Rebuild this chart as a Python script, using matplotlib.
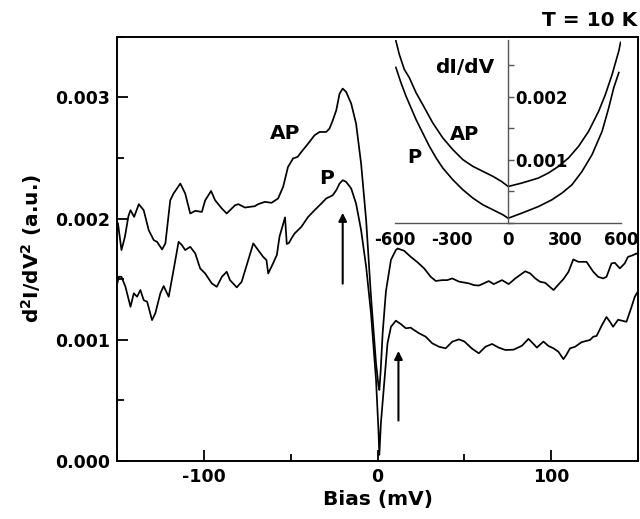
import numpy as np
import matplotlib
matplotlib.use("Agg")
import matplotlib.pyplot as plt
from matplotlib.ticker import MultipleLocator, FormatStrFormatter

plt.rcParams['font.family'] = ['DejaVu Sans']
plt.rcParams['font.weight'] = 'bold'
plt.rcParams['mathtext.fontset'] = 'dejavusans'
plt.rcParams['mathtext.default'] = 'bf'
plt.rcParams['axes.unicode_minus'] = False

# ---- main panel data: d2I/dV2 (units of 1e-3 a.u.) vs bias (mV)
ap_bias = [-149.5, -147.5, -145.5, -143.5, -142.3, -140.2, -137.5, -134.7, -131.8, -128.9,
           -127.0, -124.1, -122.2, -119.4, -117.5, -113.6, -110.8, -107.9, -105.0, -101.2,
           -99.3, -95.9, -93.6, -89.7, -86.9, -82.1, -80.2, -76.4, -73.5, -70.7,
           -68.8, -64.9, -61.1, -57.3, -54.4, -51.6, -48.7, -46.0, -43.9, -40.0,
           -36.3, -33.4, -29.6, -27.7, -25.8, -23.8, -21.9, -20.1, -18.1, -15.2,
           -12.4, -9.5, -6.6, -3.8, -0.9, 0.5, 1.0, 1.8, 2.9, 4.8,
           7.7, 10.5, 11.5, 15.3, 19.1, 22.9, 26.8, 30.6, 33.5, 37.3,
           40.1, 43.0, 46.8, 52.6, 55.4, 58.3, 61.1, 64.0, 66.9, 71.6,
           75.5, 79.3, 85.0, 87.9, 90.8, 93.6, 96.5, 101.3, 104.1, 107.0,
           109.9, 112.7, 115.6, 120.3, 124.2, 127.0, 129.9, 131.8, 134.7, 136.6,
           139.5, 142.3, 144.2, 147.1, 149.0, 150.0]
ap_d2 = [1.96, 1.74, 1.85, 2.02, 2.069, 2.014, 2.119, 2.069, 1.904, 1.822,
         1.808, 1.745, 1.795, 2.152, 2.207, 2.289, 2.207, 2.042, 2.064, 2.055,
         2.15, 2.228, 2.152, 2.083, 2.042, 2.110, 2.119, 2.091, 2.097, 2.102,
         2.119, 2.138, 2.130, 2.166, 2.262, 2.426, 2.496, 2.51, 2.550, 2.619,
         2.688, 2.715, 2.715, 2.743, 2.811, 2.894, 3.031, 3.073, 3.045, 2.949,
         2.784, 2.454, 1.987, 1.355, 0.805, 0.62, 0.585, 0.75, 1.053, 1.40,
         1.66, 1.74, 1.753, 1.734, 1.684, 1.64, 1.589, 1.519, 1.485, 1.492,
         1.492, 1.506, 1.48, 1.465, 1.451, 1.447, 1.465, 1.484, 1.459, 1.492,
         1.459, 1.506, 1.565, 1.547, 1.506, 1.478, 1.470, 1.410, 1.455, 1.50,
         1.56, 1.663, 1.643, 1.643, 1.561, 1.519, 1.506, 1.519, 1.630, 1.635,
         1.589, 1.630, 1.684, 1.698, 1.712, 1.70]

p_bias = [-149.9, -149.0, -147.5, -145.2, -142.3, -140.4, -138.5, -136.6, -134.7, -132.7,
          -129.9, -128.0, -125.1, -123.2, -120.3, -117.5, -114.6, -112.7, -110.8, -107.9,
          -105.0, -102.2, -99.3, -95.5, -92.6, -89.7, -86.9, -85.0, -81.1, -78.3,
          -74.5, -71.6, -68.8, -65.9, -64.0, -63.0, -60.2, -58.0, -56.5, -53.3,
          -52.3, -51.0, -49.6, -47.8, -43.9, -40.0, -36.3, -32.4, -29.6, -27.7,
          -25.8, -23.8, -21.9, -20.1, -18.1, -15.2, -12.4, -9.5, -6.6, -3.8,
          -0.9, 0.5, 1.0, 1.9, 3.8, 5.7, 7.7, 10.5, 13.4, 16.3,
          19.0, 21.0, 23.9, 27.7, 31.5, 35.4, 39.2, 43.0, 46.8, 50.0,
          54.5, 58.3, 62.1, 65.9, 69.7, 73.6, 78.3, 83.1, 86.9, 89.8,
          91.7, 95.5, 98.4, 101.3, 104.1, 107.0, 108.5, 110.8, 113.7, 117.5,
          122.3, 124.2, 126.1, 129.0, 131.8, 133.8, 135.6, 138.5, 141.4, 143.3,
          146.1, 148.1, 150.0]
p_d2 = [1.465, 1.52, 1.519, 1.437, 1.272, 1.383, 1.355, 1.410, 1.327, 1.313,
        1.162, 1.218, 1.383, 1.443, 1.355, 1.575, 1.808, 1.781, 1.740, 1.767,
        1.712, 1.589, 1.547, 1.465, 1.437, 1.519, 1.561, 1.492, 1.432, 1.478,
        1.657, 1.795, 1.740, 1.684, 1.657, 1.547, 1.630, 1.70, 1.85, 2.01,
        1.79, 1.80, 1.836, 1.877, 1.932, 2.014, 2.069, 2.124, 2.166, 2.179,
        2.193, 2.234, 2.289, 2.317, 2.303, 2.248, 2.124, 1.904, 1.602, 1.218,
        0.668, 0.25, 0.05, 0.311, 0.641, 0.970, 1.107, 1.157, 1.129, 1.094,
        1.10, 1.08, 1.053, 1.025, 0.970, 0.942, 0.929, 0.984, 1.003, 0.985,
        0.925, 0.888, 0.942, 0.965, 0.935, 0.915, 0.918, 0.950, 1.007, 0.965,
        0.935, 0.985, 0.948, 0.929, 0.901, 0.840, 0.87, 0.929, 0.942, 0.980,
        0.998, 1.025, 1.031, 1.115, 1.188, 1.148, 1.107, 1.165, 1.155, 1.148,
        1.265, 1.355, 1.40]

# ---- inset data: dI/dV vs bias (mV), units of 1e-3
in_ap_bias = [-594.7, -577.0, -550.5, -523.8, -488.1, -453.0, -399.7, -346.4, -293.1, -239.8,
              -186.5, -133.2, -79.9, -35.2, 0.0, 71.4, 160.0, 213.0, 266.5, 319.7,
              373.0, 426.3, 479.6, 515.3, 551.0, 586.2, 595.3]
in_ap_g = [2.887, 2.675, 2.435, 2.303, 2.064, 1.877, 1.585, 1.346, 1.159, 1.000,
           0.893, 0.813, 0.734, 0.654, 0.574, 0.628, 0.708, 0.788, 0.893, 1.027,
           1.212, 1.451, 1.770, 2.037, 2.356, 2.727, 2.861]
in_p_bias = [-594.7, -568.0, -541.4, -514.8, -488.1, -453.0, -417.3, -381.6, -346.4, -293.1,
             -239.8, -186.5, -133.2, -79.9, -26.6, 0.0, 71.4, 160.0, 231.0, 284.6,
             337.9, 391.2, 444.4, 497.7, 532.9, 559.5, 586.2]
in_p_g = [2.463, 2.223, 2.010, 1.825, 1.638, 1.426, 1.212, 1.027, 0.868, 0.681,
          0.522, 0.389, 0.282, 0.203, 0.123, 0.070, 0.150, 0.255, 0.362, 0.469,
          0.601, 0.813, 1.080, 1.451, 1.825, 2.144, 2.383]

arrow_bias = [-20.1, 12.0]
arrow_tail = [1.44, 0.31]
arrow_tip = [2.07, 0.93]

fig = plt.figure(figsize=(6.4, 5.19), dpi=100)
ax = fig.add_axes([0.183, 0.112, 0.814, 0.817])
ax.plot(ap_bias, np.array(ap_d2) * 1e-3, color='black', lw=1.25)
ax.plot(p_bias, np.array(p_d2) * 1e-3, color='black', lw=1.25)
ax.set_xlim(-150, 150)
ax.set_ylim(0, 0.0035)
ax.xaxis.set_major_locator(MultipleLocator(100))
ax.xaxis.set_minor_locator(MultipleLocator(50))
ax.yaxis.set_major_locator(MultipleLocator(0.001))
ax.yaxis.set_minor_locator(MultipleLocator(0.0005))
ax.yaxis.set_major_formatter(FormatStrFormatter('%.3f'))
ax.tick_params(which='both', direction='in', labelsize=12.5, width=1.3)
ax.tick_params(which='major', length=8, pad=5)
ax.tick_params(which='minor', length=5)
for sp in ax.spines.values():
    sp.set_linewidth(1.4)
ax.set_xlabel('Bias (mV)', fontsize=14.5, fontweight='bold', labelpad=3)
ax.set_ylabel(r'd$^2$I/dV$^2$ (a.u.)', fontsize=14.5, fontweight='bold', labelpad=8)

for xb, yt, yh in zip(arrow_bias, arrow_tail, arrow_tip):
    ax.annotate('', xy=(xb, yh * 1e-3), xytext=(xb, yt * 1e-3),
                arrowprops=dict(arrowstyle='-|>', color='black', lw=1.5, mutation_scale=12))

ax.text(-53.5, 0.00270, 'AP', fontsize=14.5, fontweight='bold', ha='center', va='center')
ax.text(-29.6, 0.00233, 'P', fontsize=14.5, fontweight='bold', ha='center', va='center')

fig.text(0.995, 1 - 20 / 519, 'T = 10 K', fontsize=14.5, fontweight='bold', ha='right', va='center')

# ---- inset
axi = fig.add_axes([0.617, 0.571, 0.354, 0.352])
axi.patch.set_alpha(0)
axi.plot(in_ap_bias, np.array(in_ap_g) * 1e-3, color='black', lw=1.2)
axi.plot(in_p_bias, np.array(in_p_g) * 1e-3, color='black', lw=1.2)
axi.set_xlim(-600, 600)
axi.set_ylim(0, 0.0029)
axi.spines['top'].set_visible(False)
axi.spines['left'].set_visible(False)
axi.spines['right'].set_position(('data', 0))
axi.spines['right'].set_color('#555555')
axi.spines['bottom'].set_color('#555555')
axi.spines['right'].set_linewidth(1.0)
axi.spines['bottom'].set_linewidth(1.0)
axi.yaxis.tick_right()
axi.set_xticks([-600, -300, 0, 300, 600])
axi.set_yticks([0.001, 0.002])
axi.yaxis.set_minor_locator(MultipleLocator(0.0005))
axi.yaxis.set_major_formatter(FormatStrFormatter('%.3f'))
axi.tick_params(axis='x', length=0, labelsize=12, pad=6)
axi.tick_params(axis='y', which='both', direction='out', length=4, width=1.0,
                labelsize=12, pad=1, color='#555555')
axi.text(-230, 0.00247, 'dI/dV', fontsize=14.5, fontweight='bold', ha='center', va='center')
axi.text(-230, 0.00140, 'AP', fontsize=14, fontweight='bold', ha='center', va='center')
axi.text(-498, 0.00103, 'P', fontsize=14, fontweight='bold', ha='center', va='center')

fig.savefig('out.png', dpi=100)
